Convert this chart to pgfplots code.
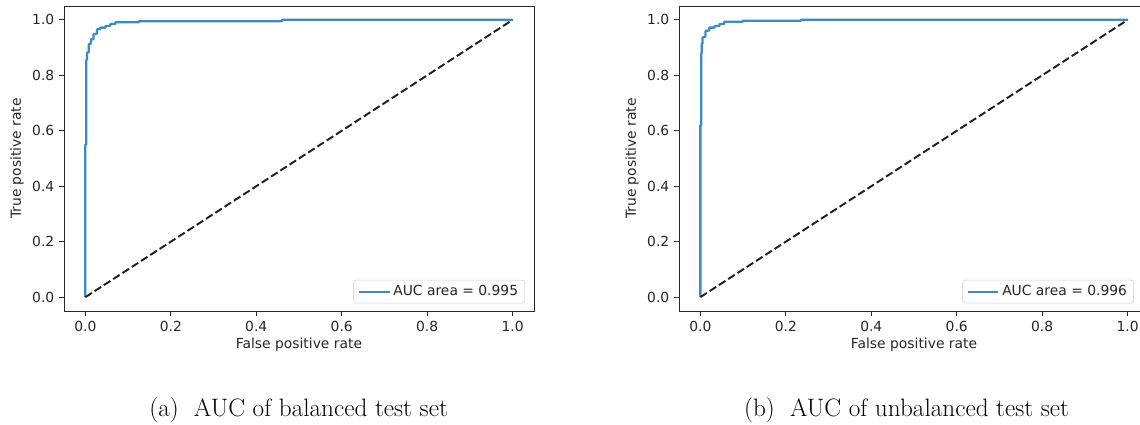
\documentclass[border=0pt]{standalone}
\usepackage{pgfplots}
\pgfplotsset{compat=1.18}
\usepackage{fontspec}
\newfontfamily\dejavu{DejaVu Sans}
\definecolor{rocblue}{RGB}{62,139,196}
\definecolor{spine}{RGB}{40,40,40}
\pgfplotsset{
  rocaxis/.style={
    scale only axis,
    width=352.5pt, height=228.75pt,
    xmin=-0.05, xmax=1.05, ymin=-0.05, ymax=1.05,
    xtick={0,0.2,0.4,0.6,0.8,1.0},
    ytick={0,0.2,0.4,0.6,0.8,1.0},
    tick align=outside,
    major tick length=3.75pt,
    tick style={spine, line width=0.6pt},
    xtick pos=bottom, ytick pos=left,
    axis line style={spine, line width=0.75pt},
    every tick label/.append style={font=\dejavu\fontsize{10.4}{12}\selectfont, text=black!85},
    /pgf/number format/.cd, fixed, fixed zerofill, precision=1, assume math mode=true,
    /pgfplots/.cd,
    label style={font=\dejavu\fontsize{10.4}{12}\selectfont, text=black!85},
    xlabel={False positive rate},
    ylabel={True positive rate},
    xlabel style={at={(axis description cs:0.5,-0.112)}, anchor=center},
    ylabel style={at={(axis description cs:-0.1,0.5)}, anchor=center},
    legend cell align=left,
    legend image code/.code={\draw[#1] (0pt,0pt) -- (23pt,0pt);},
    legend style={font=\dejavu\fontsize{10.4}{12}\selectfont, text=black!85,
      draw=black!20, rounded corners=2pt, inner xsep=3pt, inner ysep=2pt},
  }
}
\begin{document}
\begin{tikzpicture}
\useasboundingbox (0pt,0pt) rectangle (855pt,-318.75pt);
\begin{axis}[rocaxis, at={(48pt,-4.5pt)}, anchor=north west,
  legend style={at={(axis description cs:0.981,0.025)}, anchor=south east}]
\addplot[rocblue, line width=1.7pt, line join=round] coordinates {
(0,0) (0,0.55) (0.002,0.55) (0.002,0.853) (0.004,0.86) (0.004,0.882)
(0.008,0.882) (0.008,0.912) (0.013,0.915) (0.013,0.93) (0.019,0.93)
(0.019,0.948) (0.027,0.95) (0.027,0.966) (0.035,0.966) (0.035,0.972)
(0.047,0.972) (0.047,0.978) (0.058,0.978) (0.058,0.985) (0.07,0.985)
(0.07,0.991) (0.125,0.991) (0.125,0.995) (0.46,0.995) (0.46,1) (1,1)};
\addlegendentry{AUC area = 0.995}
\addplot[black!88, line width=1.45pt, dash pattern=on 5.8pt off 2.5pt, forget plot] coordinates {(0,0) (1,1)};
\end{axis}
\begin{axis}[rocaxis, at={(509.25pt,-4.5pt)}, anchor=north west,
  legend style={at={(axis description cs:0.968,0.025)}, anchor=south east}]
\addplot[rocblue, line width=1.7pt, line join=round] coordinates {
(0,0) (0,0.62) (0.002,0.62) (0.002,0.878) (0.003,0.882) (0.003,0.912)
(0.005,0.915) (0.005,0.936) (0.012,0.94) (0.012,0.96) (0.021,0.962)
(0.021,0.972) (0.033,0.972) (0.033,0.978) (0.045,0.978) (0.045,0.985)
(0.056,0.985) (0.056,0.993) (0.099,0.993) (0.099,0.997) (0.235,0.997)
(0.235,1) (1,1)};
\addlegendentry{AUC area = 0.996}
\addplot[black!88, line width=1.45pt, dash pattern=on 5.8pt off 2.5pt, forget plot] coordinates {(0,0) (1,1)};
\end{axis}
\node[anchor=base, font=\fontsize{18.9}{22}\selectfont] at (224pt,-312pt) {(a)\ \ AUC of balanced test set};
\node[anchor=base, font=\fontsize{18.9}{22}\selectfont] at (680pt,-312pt) {(b)\ \ AUC of unbalanced test set};
\end{tikzpicture}
\end{document}
